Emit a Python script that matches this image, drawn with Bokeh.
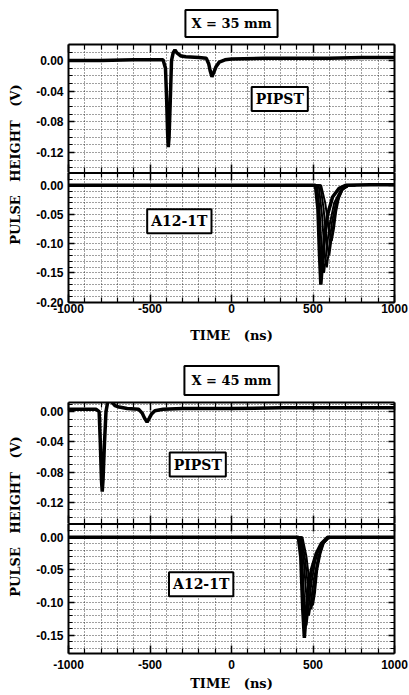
import math
from bokeh.plotting import figure
from bokeh.models import (FixedTicker, NumeralTickFormatter, LinearAxis, Label, Range1d,
                          CustomJSTickFormatter)
from bokeh.layouts import row, column
from bokeh.embed import file_html
from bokeh.resources import INLINE

# ---------------- data ----------------
x_ticks = [-1000, -500, 0, 500, 1000]
x_minor_ticks = [-900, -800, -700, -600, -400, -300, -200, -100,
                 100, 200, 300, 400, 600, 700, 800, 900]

pip_ticks = [0.00, -0.04, -0.08, -0.12]
pip_minor_ticks = [0.01, -0.01, -0.02, -0.03, -0.05, -0.06, -0.07, -0.09, -0.10, -0.11, -0.13, -0.14]
a12_ticks_35 = [0.00, -0.05, -0.10, -0.15, -0.20]
a12_ticks_45 = [0.00, -0.05, -0.10, -0.15]
a12_minor_ticks = [0.01, -0.01, -0.02, -0.03, -0.04, -0.06, -0.07, -0.08, -0.09,
                   -0.11, -0.12, -0.13, -0.14, -0.16, -0.17, -0.18, -0.19]

# X = 35 mm, PIPST trace
t35_pip = [-1000, -800, -600, -420, -405, -398, -392, -388, -383, -376, -368, -358, -347, -335,
           -310, -280, -200, -155, -140, -130, -120, -110, -95, -75, -40, 0, 200, 400, 600, 800, 1000]
v35_pip = [0.000, 0.000, 0.001, 0.001, -0.010, -0.050, -0.095, -0.113, -0.100, -0.055, 0.000, 0.010,
           0.014, 0.010, 0.006, 0.005, 0.004, 0.003, -0.004, -0.014, -0.021, -0.016, -0.008, -0.002,
           0.001, 0.002, 0.003, 0.003, 0.003, 0.004, 0.004]

# X = 35 mm, A12-1T traces (overlaid events)
t35_a12_1 = [-1000, -500, 0, 500, 515, 530, 540, 548, 556, 570, 590, 620, 660, 700, 850, 1000]
v35_a12_1 = [0.000, 0.000, 0.000, 0.000, 0.000, -0.040, -0.120, -0.170, -0.140, -0.090, -0.050,
             -0.020, -0.005, 0.000, 0.001, 0.001]
t35_a12_2 = [480, 525, 540, 555, 568, 580, 600, 630, 670, 720, 760]
v35_a12_2 = [0.000, 0.000, -0.040, -0.120, -0.150, -0.120, -0.070, -0.030, -0.008, 0.000, 0.000]
t35_a12_3 = [480, 535, 555, 572, 585, 598, 615, 640, 675, 720, 760]
v35_a12_3 = [0.000, 0.000, -0.050, -0.120, -0.140, -0.110, -0.065, -0.030, -0.008, 0.000, 0.000]
t35_a12_4 = [480, 545, 565, 585, 600, 612, 628, 650, 680, 720, 760]
v35_a12_4 = [0.000, 0.000, -0.040, -0.100, -0.120, -0.095, -0.060, -0.028, -0.008, 0.000, 0.000]
t35_a12_5 = [480, 550, 575, 600, 615, 628, 642, 660, 685, 720, 760]
v35_a12_5 = [0.000, 0.000, -0.030, -0.080, -0.095, -0.075, -0.045, -0.020, -0.006, 0.000, 0.000]

# X = 45 mm, PIPST trace
t45_pip = [-1000, -900, -830, -812, -805, -798, -793, -788, -780, -770, -760, -748, -735, -715,
           -690, -640, -570, -548, -535, -518, -505, -490, -470, -420, -300, 0, 300, 600, 1000]
v45_pip = [0.003, 0.003, 0.003, 0.000, -0.040, -0.090, -0.106, -0.090, -0.045, 0.000, 0.012, 0.017,
           0.013, 0.008, 0.006, 0.004, 0.003, -0.002, -0.008, -0.014, -0.009, -0.003, 0.001, 0.003,
           0.004, 0.004, 0.005, 0.005, 0.005]

# X = 45 mm, A12-1T traces
t45_a12_1 = [-1000, -500, 0, 400, 410, 425, 437, 447, 457, 470, 490, 520, 550, 590, 800, 1000]
v45_a12_1 = [0.000, 0.000, 0.000, 0.000, 0.000, -0.030, -0.110, -0.154, -0.120, -0.080, -0.050,
             -0.025, -0.010, 0.000, 0.000, 0.000]
t45_a12_2 = [380, 418, 435, 450, 460, 472, 490, 515, 545, 590, 640]
v45_a12_2 = [0.000, 0.000, -0.040, -0.115, -0.135, -0.110, -0.070, -0.035, -0.012, 0.000, 0.000]
t45_a12_3 = [380, 425, 445, 462, 475, 488, 505, 530, 555, 595, 640]
v45_a12_3 = [0.000, 0.000, -0.040, -0.100, -0.120, -0.100, -0.065, -0.032, -0.012, 0.000, 0.000]
t45_a12_4 = [380, 430, 452, 475, 490, 503, 518, 540, 562, 600, 640]
v45_a12_4 = [0.000, 0.000, -0.035, -0.090, -0.110, -0.090, -0.055, -0.028, -0.010, 0.000, 0.000]
t45_a12_5 = [380, 435, 460, 485, 500, 512, 526, 546, 568, 600, 640]
v45_a12_5 = [0.000, 0.000, -0.030, -0.085, -0.104, -0.085, -0.050, -0.025, -0.008, 0.000, 0.000]

# ---------------- styling helpers ----------------
TICK_FONT = "Liberation Sans"
SERIF = "DejaVu Serif"
NB = "\u00a0"


def style_axis(ax, labels, major_in=6, minor_in=4, width=2):
    ax.axis_line_color = "black" if width else None
    ax.axis_line_width = width if width else 1
    ax.major_tick_in = major_in
    ax.major_tick_out = 0
    ax.minor_tick_in = minor_in
    ax.minor_tick_out = 0
    ax.major_tick_line_color = "black"
    ax.minor_tick_line_color = "black"
    ax.major_tick_line_width = 1.5
    ax.minor_tick_line_width = 1.2
    if labels:
        ax.major_label_text_font = TICK_FONT
        ax.major_label_text_font_style = "bold"
        ax.major_label_text_font_size = "12px"
        ax.major_label_text_color = "black"
    else:
        ax.formatter = CustomJSTickFormatter(code="return ''")
        ax.major_label_text_font_size = "0px"
        ax.major_label_standoff = 0


def panel(height, left, right, top, bottom, yr, yticks, yminor, xlabels, xlabel_text=None,
          xstandoff=2, label_standoff=8, top_width=2):
    p = figure(width=409 - 30, height=height, x_range=Range1d(-1000, 1000), y_range=Range1d(*yr),
               output_backend="svg", toolbar_location=None,
               min_border_left=left, min_border_right=right, min_border_top=top,
               min_border_bottom=bottom)
    p.background_fill_color = "white"
    p.border_fill_color = "white"
    p.outline_line_color = None
    xt = FixedTicker(ticks=x_ticks, minor_ticks=x_minor_ticks)
    yt = FixedTicker(ticks=yticks, minor_ticks=yminor)
    p.xaxis.ticker = xt
    p.yaxis.ticker = yt
    p.yaxis.formatter = NumeralTickFormatter(format="0.00")
    p.xaxis.formatter = NumeralTickFormatter(format="0")
    style_axis(p.yaxis[0], True)
    p.yaxis.major_label_standoff = 5
    # upper sub-panels: bottom edge line is drawn by the lower sub-panel's top axis
    style_axis(p.xaxis[0], xlabels, 8, 5, 2 if xlabels else 0)
    if xlabels:
        p.xaxis.major_label_standoff = xstandoff
    if xlabel_text:
        p.xaxis.axis_label = xlabel_text
        p.xaxis.axis_label_text_font = SERIF
        p.xaxis.axis_label_text_font_style = "bold"
        p.xaxis.axis_label_text_font_size = "13px"
        p.xaxis.axis_label_text_color = "black"
        p.xaxis.axis_label_standoff = label_standoff
    top_ax = LinearAxis(ticker=xt)
    style_axis(top_ax, False, 8, 5, top_width)
    p.add_layout(top_ax, "above")
    right_ax = LinearAxis(ticker=yt)
    style_axis(right_ax, False)
    p.add_layout(right_ax, "right")
    for g in (p.xgrid[0], p.ygrid[0]):
        g.grid_line_color = "black"
        g.grid_line_dash = "1 2"
        g.grid_line_alpha = 0.75
        g.grid_line_width = 1
        g.minor_grid_line_color = "black"
        g.minor_grid_line_dash = "1 2"
        g.minor_grid_line_alpha = 0.75
        g.minor_grid_line_width = 1
    return p


def set_title(p, text, offset, standoff, padding):
    p.title.text = text
    p.title.align = "center"
    p.title.offset = offset
    p.title.standoff = standoff
    p.title.text_font = SERIF
    p.title.text_font_style = "bold"
    p.title.text_font_size = "13px"
    p.title.text_color = "black"
    p.title.border_line_color = "black"
    p.title.border_line_width = 2
    p.title.background_fill_color = "white"
    p.title.padding = padding


def box_label(p, x, y, text, size="14px"):
    p.add_layout(Label(x=x, y=y, text=text, text_font=SERIF, text_font_style="bold",
                       text_font_size=size, text_color="black", text_align="center",
                       text_baseline="middle", border_line_color="black", border_line_width=2,
                       background_fill_color="white", padding=4))


def ylab_fig(height, ypos):
    f = figure(width=30, height=height, x_range=Range1d(0, 1), y_range=Range1d(0, 1),
               output_backend="svg", toolbar_location=None, min_border=0,
               x_axis_location=None, y_axis_location=None)
    f.grid.visible = False
    f.outline_line_color = None
    f.background_fill_color = "white"
    f.border_fill_color = "white"
    f.add_layout(Label(x=0.5, y=ypos, text=f"PULSE{NB*3}HEIGHT{NB*3}(V)", angle=math.pi / 2,
                       text_font=SERIF, text_font_style="bold", text_font_size="13px",
                       text_color="black", text_align="center", text_baseline="middle"))
    return f


time_label = f"TIME{NB*3}(ns)"

# ---------------- X = 35 mm ----------------
f1a = panel(172, 38, 13, 43, 0, (-0.146, 0.021), pip_ticks, pip_minor_ticks, False)
f1a.line(t35_pip, v35_pip, line_color="black", line_width=3.5)
box_label(f1a, 296, -0.050, "PIPST")
set_title(f1a, f"X{NB}={NB}35{NB}mm", -5, 15, 6)

f1b = panel(178, 38, 13, 0, 48, (-0.2005, 0.022), a12_ticks_35, a12_minor_ticks, True,
            time_label, 1, 12, top_width=3)
f1b.line(t35_a12_1, v35_a12_1, line_color="black", line_width=3.5)
for tt, vv in [(t35_a12_2, v35_a12_2), (t35_a12_3, v35_a12_3), (t35_a12_4, v35_a12_4),
               (t35_a12_5, v35_a12_5)]:
    f1b.line(tt, vv, line_color="black", line_width=2)
box_label(f1b, -320, -0.0615, "A12-1T")

# ---------------- X = 45 mm ----------------
f2a = panel(173, 36, 15, 52, 0, (-0.148, 0.012), pip_ticks, pip_minor_ticks, False)
f2a.line(t45_pip, v45_pip, line_color="black", line_width=3.5)
box_label(f2a, -207, -0.070, "PIPST")
set_title(f2a, f"X{NB}={NB}45{NB}mm", -6, 15, 7)

f2b = panel(172, 36, 15, 0, 42, (-0.178, 0.021), a12_ticks_45, a12_minor_ticks, True,
            time_label, 6, 4, top_width=3)
f2b.line(t45_a12_1, v45_a12_1, line_color="black", line_width=3.5)
for tt, vv in [(t45_a12_2, v45_a12_2), (t45_a12_3, v45_a12_3), (t45_a12_4, v45_a12_4),
               (t45_a12_5, v45_a12_5)]:
    f2b.line(tt, vv, line_color="black", line_width=2)
box_label(f2b, -186, -0.072, "A12-1T")

lab1 = ylab_fig(350, 0.531)
lab2 = ylab_fig(345, 0.519)

layout = row(column(lab1, lab2, spacing=0), column(f1a, f1b, f2a, f2b, spacing=0), spacing=0)

open("out.html", "w").write(file_html(layout, INLINE))
